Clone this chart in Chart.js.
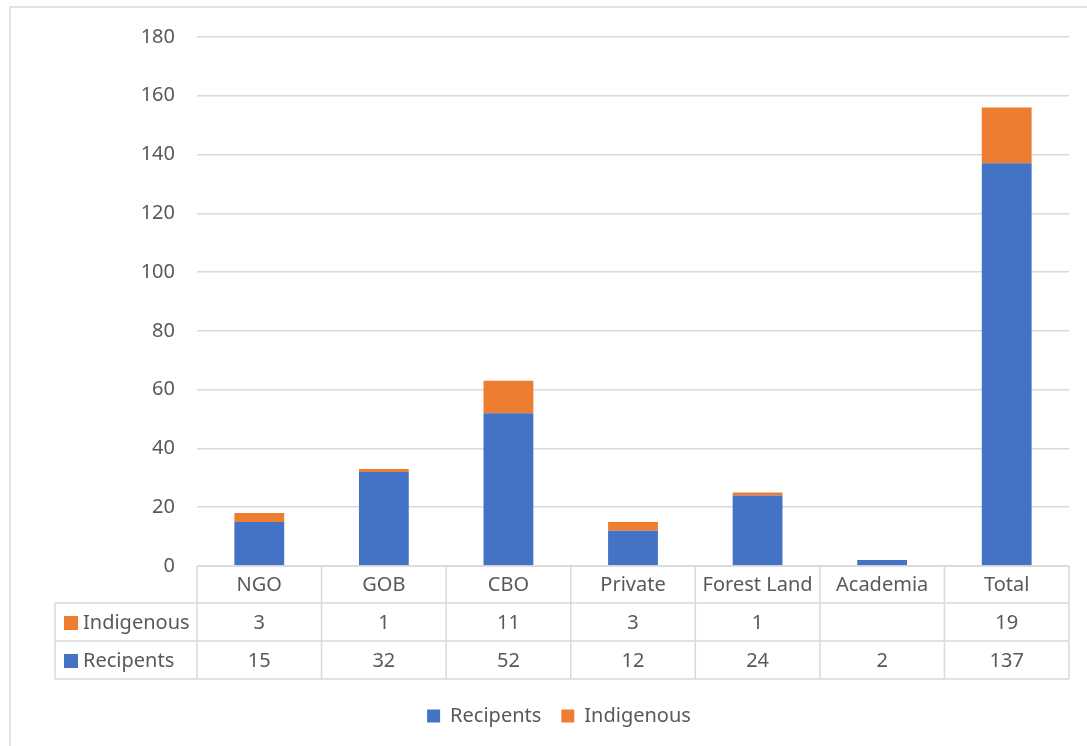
<!DOCTYPE html>
<html>
<head>
<meta charset="utf-8">
<script src="https://cdn.jsdelivr.net/npm/chart.js@4"></script>
<style>
    html, body { margin: 0; padding: 0; background: #fff; }
    #wrap { width: 1087px; height: 746px; }
</style>
</head>
<body>
<div id="wrap"><canvas id="recipientsChart" width="1087" height="746"></canvas></div>
<script>
// Chart data
const categories = ['NGO', 'GOB', 'CBO', 'Private', 'Forest Land', 'Academia', 'Total'];
const recipents = [15, 32, 52, 12, 24, 2, 137];
const indigenous = [3, 1, 11, 3, 1, null, 19];
const yTicks = [0, 20, 40, 60, 80, 100, 120, 140, 160, 180];

const BLUE = '#4472C4';
const ORANGE = '#ED7D31';
const GRID = '#d9d9d9';
const TEXT = '#595959';
const FONT = '"Noto Sans", sans-serif';

// Data table under the bars plus outer frame
const dataTablePlugin = {
    id: 'dataTable',
    afterDraw(chart) {
        const ctx = chart.ctx;
        const area = chart.chartArea;
        const xScale = chart.scales.x;
        const colW = (area.right - area.left) / categories.length;
        const top = area.bottom;
        const headerH = 37;
        const rowH = 38;
        const legendLeft = 55;
        const rows = [
            { label: 'Indigenous', color: ORANGE, values: indigenous },
            { label: 'Recipents', color: BLUE, values: recipents }
        ];
        const bottom = top + headerH + rowH * rows.length;

        ctx.save();
        ctx.strokeStyle = GRID;
        ctx.lineWidth = 1.5;
        ctx.beginPath();
        // horizontal lines
        ctx.moveTo(area.left, top);
        ctx.lineTo(area.right, top);
        for (let r = 0; r <= rows.length; r++) {
            const y = top + headerH + rowH * r;
            ctx.moveTo(legendLeft, y);
            ctx.lineTo(area.right, y);
        }
        // vertical lines
        for (let c = 0; c <= categories.length; c++) {
            const x = area.left + colW * c;
            ctx.moveTo(x, top);
            ctx.lineTo(x, bottom);
        }
        ctx.moveTo(legendLeft, top + headerH);
        ctx.lineTo(legendLeft, bottom);
        ctx.stroke();

        ctx.font = '20px ' + FONT;
        ctx.fillStyle = TEXT;
        ctx.textAlign = 'center';
        ctx.textBaseline = 'middle';
        categories.forEach((cat, i) => {
            ctx.fillText(cat, xScale.getPixelForValue(i), top + headerH / 2 + 1);
        });

        rows.forEach((row, r) => {
            const yMid = top + headerH + rowH * r + rowH / 2 + 1;
            ctx.fillStyle = row.color;
            ctx.fillRect(64, yMid - 7, 14, 14);
            ctx.fillStyle = TEXT;
            ctx.textAlign = 'left';
            ctx.fillText(row.label, 83, yMid);
            ctx.textAlign = 'center';
            row.values.forEach((v, i) => {
                if (v !== null) ctx.fillText(String(v), xScale.getPixelForValue(i), yMid);
            });
        });

        // outer chart frame (cropped on right and bottom)
        ctx.beginPath();
        ctx.moveTo(10, chart.height);
        ctx.lineTo(10, 7);
        ctx.lineTo(chart.width, 7);
        ctx.stroke();
        ctx.restore();
    }
};

new Chart(document.getElementById('recipientsChart'), {
    type: 'bar',
    data: {
        labels: categories,
        datasets: [
            {
                label: 'Recipents',
                data: recipents,
                backgroundColor: BLUE,
                barPercentage: 0.4,
                categoryPercentage: 1
            },
            {
                label: 'Indigenous',
                data: indigenous,
                backgroundColor: ORANGE,
                barPercentage: 0.4,
                categoryPercentage: 1
            }
        ]
    },
    options: {
        responsive: false,
        animation: false,
        layout: {
            padding: { top: 37, right: 18, bottom: 10, left: 49 }
        },
        plugins: {
            legend: {
                position: 'bottom',
                labels: {
                    color: TEXT,
                    font: { family: FONT, size: 20 },
                    boxWidth: 13,
                    boxHeight: 13,
                    padding: 20
                }
            },
            tooltip: { enabled: false }
        },
        scales: {
            x: {
                stacked: true,
                grid: { display: false },
                border: { display: false },
                ticks: { display: false },
                afterFit: function (scale) {
                    scale.height = 120;
                }
            },
            y: {
                stacked: true,
                min: 0,
                max: 180,
                afterBuildTicks: function (scale) {
                    scale.ticks = yTicks.map(v => ({ value: v }));
                },
                grid: { color: GRID, lineWidth: 1.5, drawTicks: false },
                border: { display: false },
                ticks: {
                    color: TEXT,
                    font: { family: FONT, size: 20 },
                    padding: 22
                },
                afterFit: function (scale) {
                    scale.width = 148;
                }
            }
        }
    },
    plugins: [dataTablePlugin]
});
</script>
</body>
</html>
